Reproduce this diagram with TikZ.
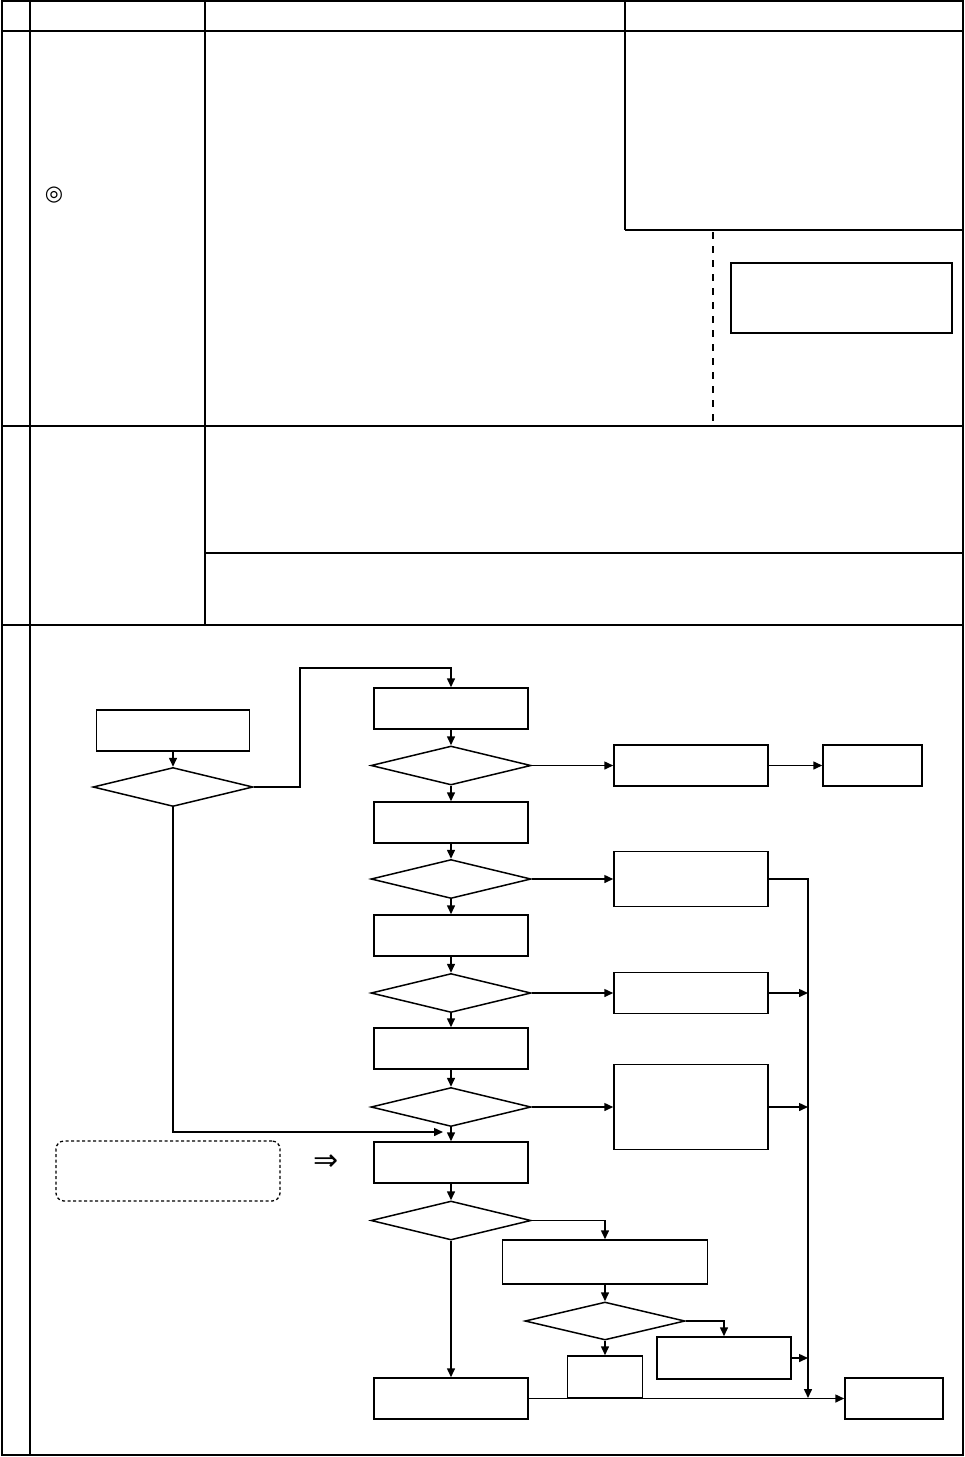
\documentclass[tikz,border=0pt]{standalone}
\usepackage{fontspec}
\usepackage{tikz}
\usetikzlibrary{positioning, shapes.geometric, arrows.meta}
\newfontfamily\dejavu{DejaVu Sans}

\tikzset{
    frameline/.style={line width=1.7pt},
    procbox/.style={draw, line width=1.5pt, minimum width=154pt, minimum height=41pt, inner sep=0pt},
    decision/.style={draw, diamond, line width=1.5pt, minimum width=160pt, minimum height=39pt, inner sep=0pt},
    flow/.style={line width=1.5pt, -{Triangle[length=9pt,width=8pt]}},
    link/.style={line width=1.5pt}
}

\begin{document}
\begin{tikzpicture}[x=1pt, y=-1pt]
    \useasboundingbox (0,0) rectangle (965,1457);

    % table frame
    \draw[line width=2.8pt] (2,1) rectangle (963,1455);
    \draw[frameline] (30,1) -- (30,1455);
    \draw[frameline] (2,31) -- (963,31);
    \draw[frameline] (2,426) -- (963,426);
    \draw[frameline] (2,625) -- (963,625);
    \draw[frameline] (205,1) -- (205,625);
    \draw[line width=1.2pt] (625,1) -- (625,230);
    \draw[frameline] (625,230) -- (963,230);
    \draw[line width=1.2pt, dash pattern=on 7pt off 7pt] (713,232) -- (713,426);
    \draw[line width=1.2pt] (731,263) rectangle (952,333);
    \draw[frameline] (205,553) -- (963,553);
    \node (mark) at (54,195) {\dejavu\fontsize{21}{21}\selectfont ◎};

    % flow chart
    \node[procbox, minimum width=153pt] (start) at (173,730.5) {};
    \node[decision] (chk0) at (173,787) {};
    \node[procbox] (s1) at (451,708.5) {};
    \node[decision] (q1) at (451,765.5) {};
    \node[procbox] (s2) at (451,822.5) {};
    \node[decision] (q2) at (451,879) {};
    \node[procbox] (s3) at (451,935.5) {};
    \node[decision] (q3) at (451,993) {};
    \node[procbox] (s4) at (451,1048.5) {};
    \node[decision] (q4) at (451,1107) {};
    \node[procbox] (s5) at (451,1162.5) {};
    \node[decision] (q5) at (451,1220.5) {};

    \node[procbox] (r1) at (691,765.5) {};
    \node[procbox, minimum width=99pt] (r1b) at (872.5,765.5) {};
    \node[procbox, minimum height=55pt] (r2) at (691,879) {};
    \node[procbox] (r3) at (691,993) {};
    \node[procbox, minimum height=85pt] (r4) at (691,1107) {};

    \node[procbox, minimum width=205pt, minimum height=44pt] (sub) at (605,1262) {};
    \node[decision, minimum height=38pt] (q6) at (605,1321) {};
    \node[procbox, minimum width=75pt, minimum height=42pt] (subno) at (605,1377) {};
    \node[procbox, minimum width=134pt, minimum height=42pt] (subyes) at (724,1358) {};
    \node[procbox] (last) at (451,1398.5) {};
    \node[procbox, minimum width=98pt] (finish) at (894,1398.5) {};

    \node[draw, line width=1.3pt, rounded corners=8pt, dash pattern=on 3pt off 2.5pt,
        minimum width=224pt, minimum height=60pt] (note) at (168,1171) {};
    \node (hint) at (326,1163) {\dejavu\fontsize{30}{30}\selectfont ⇒};

    \coordinate (hop) at (300,668);
    \coordinate (merge) at (443,1132);
    \coordinate (bus) at (808,1398);

    \draw[flow] (start) -- (chk0);
    \draw[flow] (chk0.east) -| (hop) -| (s1.north);
    \draw[flow] (chk0.south) |- (merge);
    \foreach \a/\b in {s1/q1, q1/s2, s2/q2, q2/s3, s3/q3, q3/s4, s4/q4, q4/s5, s5/q5}
        \draw[flow] (\a) -- (\b);
    \draw[flow] (q1.east) -- (r1.west);
    \draw[flow] (r1.east) -- (r1b.west);
    \draw[flow] (q2.east) -- (r2.west);
    \draw[flow] (q3.east) -- (r3.west);
    \draw[flow] (q4.east) -- (r4.west);
    \draw[flow] (r2.east) -| (bus);
    \draw[flow] (r3.east) -- (r3.east -| bus);
    \draw[flow] (r4.east) -- (r4.east -| bus);
    \draw[flow] (subyes.east) -- (subyes.east -| bus);
    \draw[flow] (q5.east) -| (sub.north);
    \draw[flow] (sub) -- (q6);
    \draw[flow] (q6.south) -- (subno.north);
    \draw[flow] (q6.east) -| (subyes.north);
    \draw[flow] (q5.south) -- (last.north);
    \draw[flow] (last.east) -- (finish.west);
\end{tikzpicture}
\end{document}
